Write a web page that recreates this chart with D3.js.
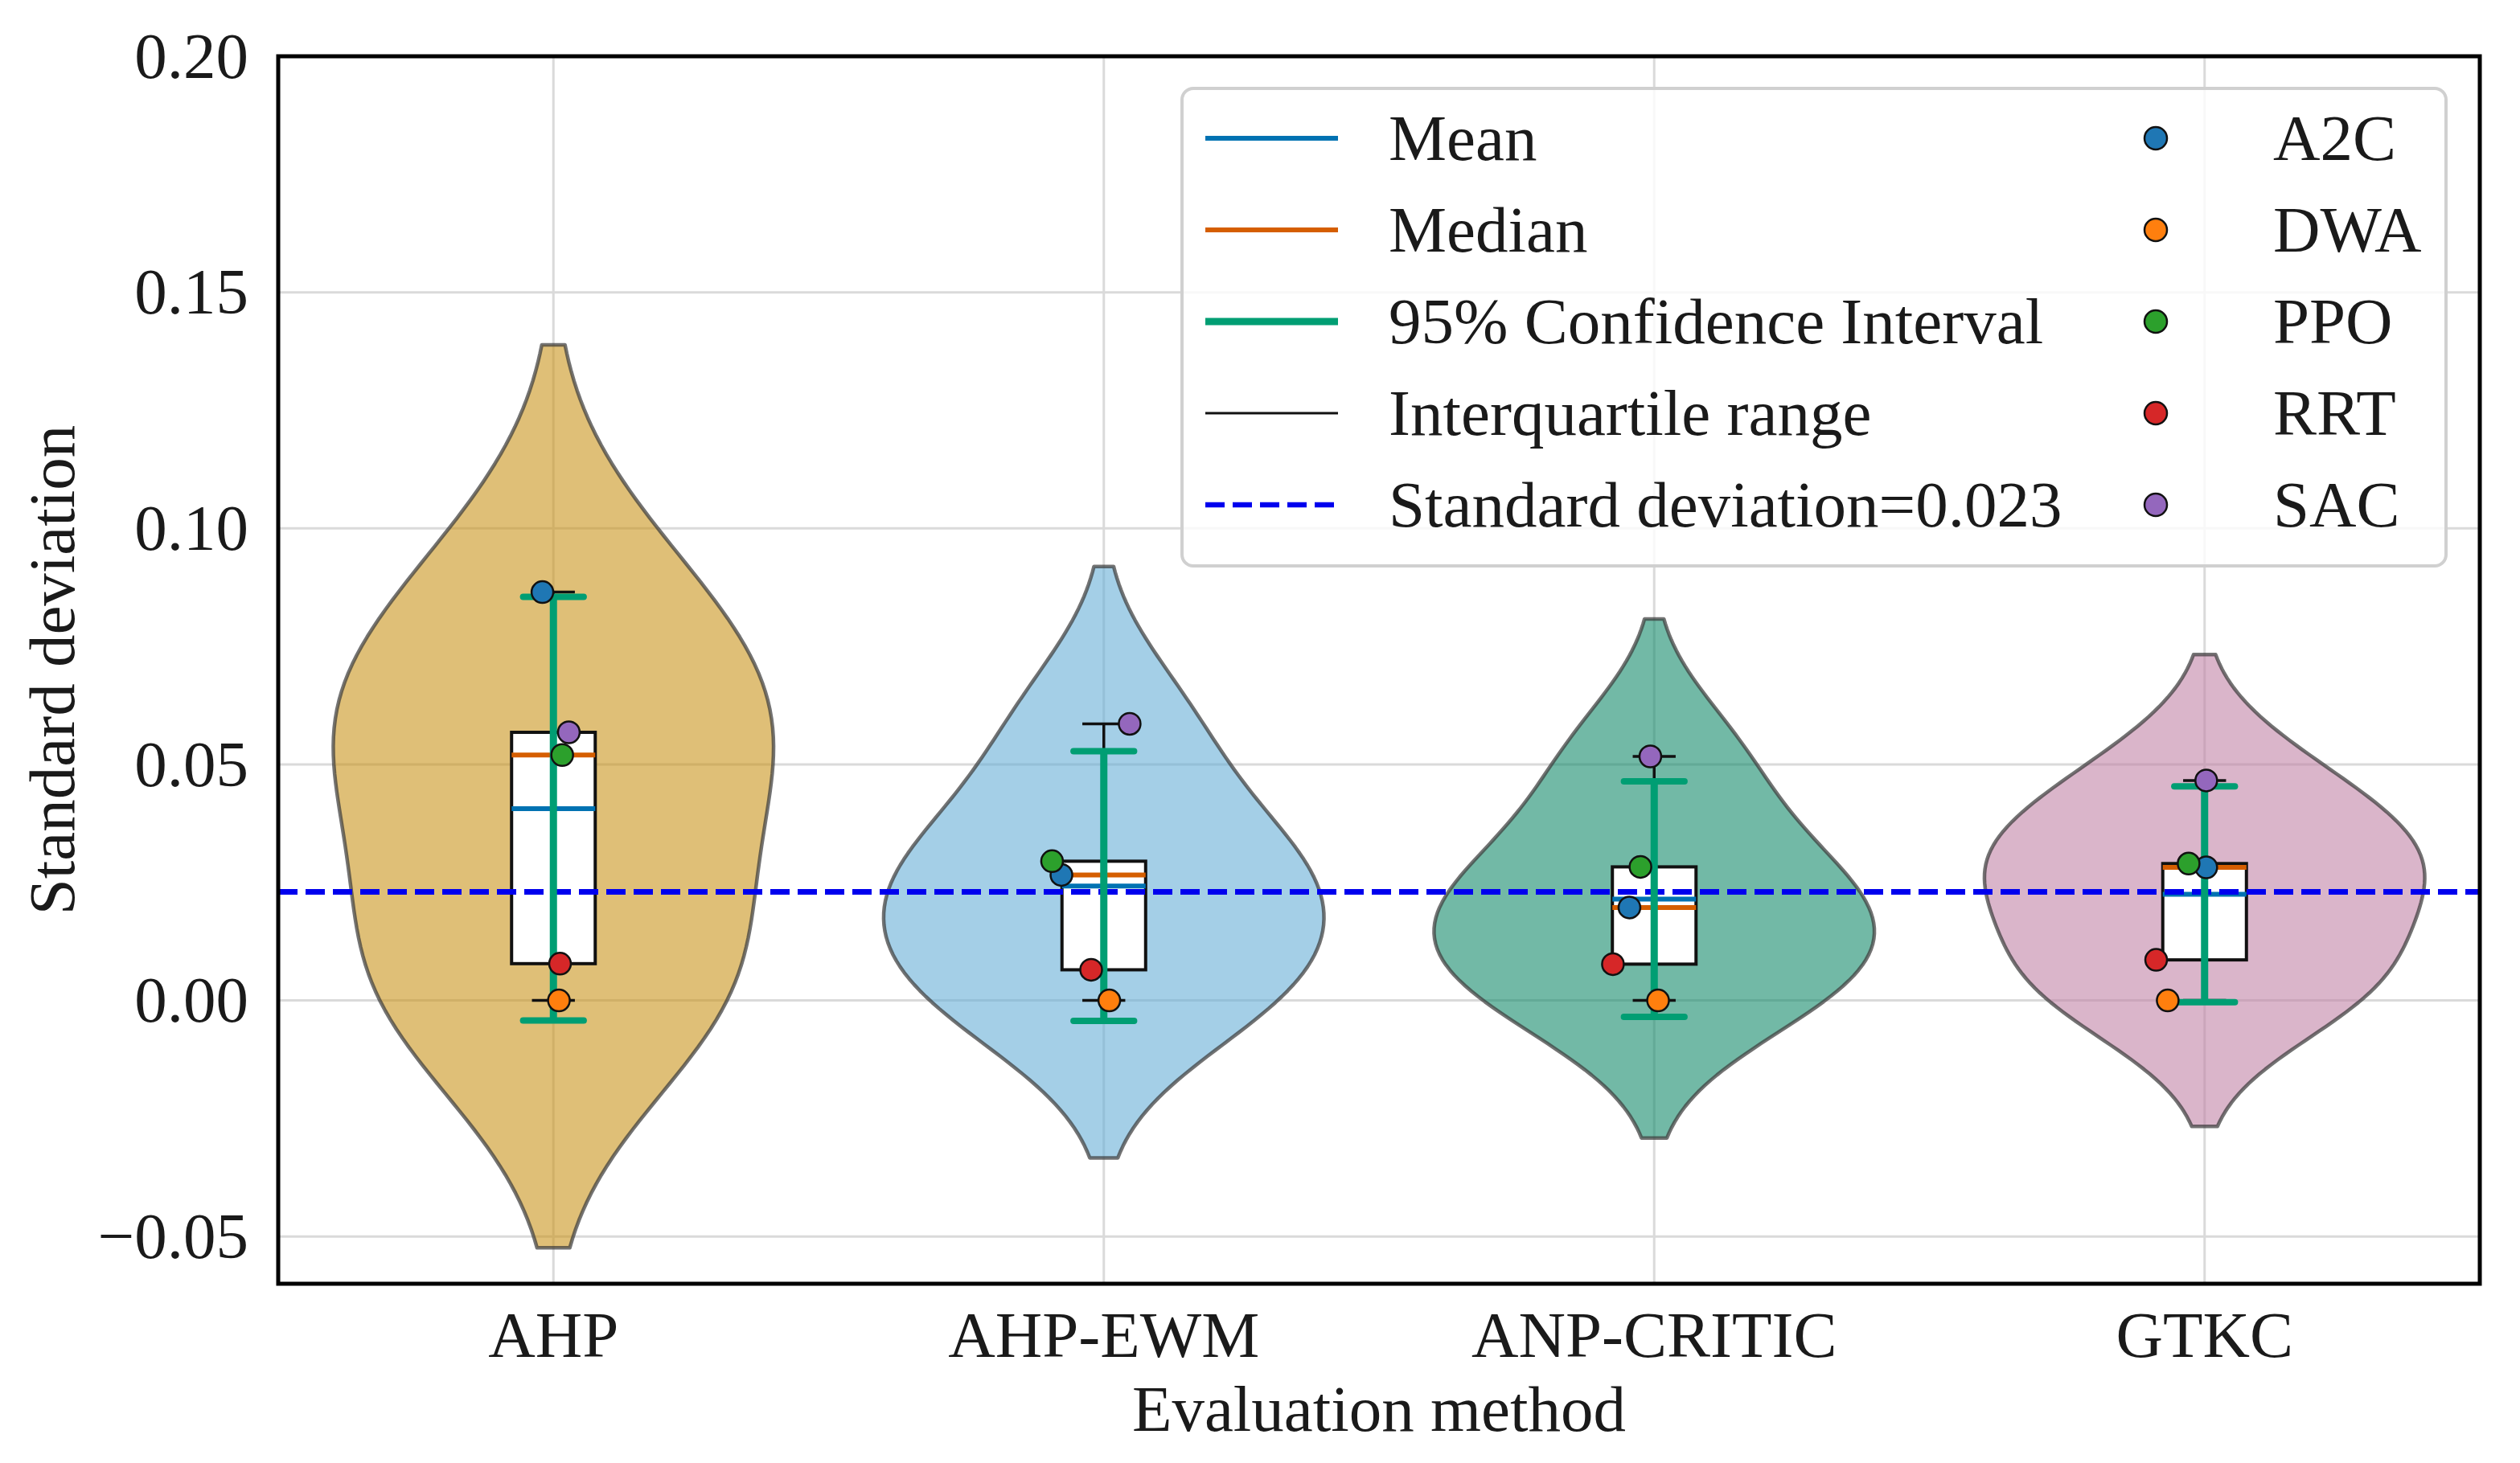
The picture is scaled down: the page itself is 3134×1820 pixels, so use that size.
<!DOCTYPE html>
<html>
<head>
<meta charset="utf-8">
<script src="https://cdn.jsdelivr.net/npm/d3@7"></script>
<style>
  body { margin: 0; background: #fff; }
  text { font-family: "Liberation Serif", "Times New Roman", serif; fill: #1a1a1a; }
</style>
</head>
<body>
<div id="chart"></div>
<script>
// categories and series
const methods = ["AHP", "AHP-EWM", "ANP-CRITIC", "GTKC"];
const algorithms = ["A2C", "DWA", "PPO", "RRT", "SAC"];

// standard deviation of each algorithm under each method (order = algorithms)
const ahpValues  = [0.0865, 0.0000, 0.0520, 0.0078, 0.0568];
const ewmValues  = [0.0266, 0.0000, 0.0295, 0.0065, 0.0586];
const anpValues  = [0.0197, 0.0000, 0.0283, 0.0077, 0.0517];
const gtkcValues = [0.0282, 0.0000, 0.0290, 0.0086, 0.0466];

// horizontal jitter of the scatter points (x units)
const ahpJitter  = [-0.020, 0.010, 0.016, 0.012, 0.028];
const ewmJitter  = [-0.077, 0.010, -0.094, -0.023, 0.047];
const anpJitter  = [-0.045, 0.007, -0.025, -0.075, -0.007];
const gtkcJitter = [0.003, -0.067, -0.029, -0.088, 0.003];

const refStd = 0.023;
const yTicks = [-0.05, 0.00, 0.05, 0.10, 0.15, 0.20];

const allValues = [ahpValues, ewmValues, anpValues, gtkcValues];
const allJitter = [ahpJitter, ewmJitter, anpJitter, gtkcJitter];

const T_975_DF4 = 2.7764;  // student t, 95% two sided, n = 5

// colours
const violinColors = ["#c9941d", "#68afd7", "#148a6a", "#c283a6"];
const algoColors = ["#1f77b4", "#ff7f0e", "#2ca02c", "#d62728", "#9467bd"];
const meanColor = "#0072B2", medianColor = "#D55E00", ciColor = "#009E73";

const width = 3134, height = 1820;
const plot = {left: 346, right: 3084, top: 70, bottom: 1597};

const svg = d3.select("#chart").append("svg")
    .attr("width", width).attr("height", height);
svg.append("rect").attr("width", width).attr("height", height).attr("fill", "#fff");

const x = d3.scaleLinear().domain([-0.5, 3.5]).range([plot.left, plot.right]);
const y = d3.scaleLinear().domain([-0.06, 0.20]).range([plot.bottom, plot.top]);

// grid
svg.append("g").selectAll("line").data(yTicks).enter().append("line")
    .attr("x1", plot.left).attr("x2", plot.right)
    .attr("y1", d => y(d)).attr("y2", d => y(d))
    .attr("stroke", "#dadada").attr("stroke-width", 3);
svg.append("g").selectAll("line").data(methods).enter().append("line")
    .attr("x1", (d, i) => x(i)).attr("x2", (d, i) => x(i))
    .attr("y1", plot.top).attr("y2", plot.bottom)
    .attr("stroke", "#dadada").attr("stroke-width", 3);

// stats for each method
const stats = allValues.map(function(vals) {
  const sorted = vals.slice().sort(d3.ascending);
  const n = vals.length, mean = d3.mean(vals), sd = d3.deviation(vals);
  const half = T_975_DF4 * sd / Math.sqrt(n);
  return {
    mean: mean, sd: sd,
    q1: d3.quantile(sorted, 0.25), med: d3.quantile(sorted, 0.5), q3: d3.quantile(sorted, 0.75),
    min: sorted[0], max: sorted[n - 1],
    ciLo: mean - half, ciHi: mean + half
  };
});

// violins (gaussian kde, scott bandwidth, cut = 2, scaled to same width)
const violinHalf = 0.4;
const violinG = svg.append("g");
allValues.forEach(function(vals, i) {
  const bw = stats[i].sd * Math.pow(vals.length, -1 / 5);
  const lo = d3.min(vals) - 2 * bw, hi = d3.max(vals) + 2 * bw;
  const grid = d3.range(100).map(k => lo + (hi - lo) * k / 99);
  const dens = grid.map(g => d3.sum(vals, v => Math.exp(-0.5 * Math.pow((g - v) / bw, 2))));
  const mx = d3.max(dens);
  const pts = grid.map((g, k) => ({v: g, w: violinHalf * dens[k] / mx}));
  violinG.append("path")
      .datum(pts)
      .attr("d", d3.area()
          .y(d => y(d.v))
          .x0(d => x(i - d.w))
          .x1(d => x(i + d.w)))
      .attr("fill", violinColors[i])
      .attr("fill-opacity", 0.6)
      .attr("stroke", "#3d3d3d")
      .attr("stroke-opacity", 0.72)
      .attr("stroke-width", 4.5)
      .attr("stroke-linejoin", "round");
});

// boxes
const boxHalf = 0.076, capHalf = 0.039, ciCapHalf = 0.055;
const boxG = svg.append("g");
stats.forEach(function(s, i) {
  // whiskers
  [[s.q3, s.max], [s.q1, s.min]].forEach(function(w) {
    boxG.append("line")
        .attr("x1", x(i)).attr("x2", x(i))
        .attr("y1", y(w[0])).attr("y2", y(w[1]))
        .attr("stroke", "#111").attr("stroke-width", 3.5);
    boxG.append("line")
        .attr("x1", x(i - capHalf)).attr("x2", x(i + capHalf))
        .attr("y1", y(w[1])).attr("y2", y(w[1]))
        .attr("stroke", "#111").attr("stroke-width", 3.5);
  });
  boxG.append("rect")
      .attr("x", x(i - boxHalf)).attr("width", x(i + boxHalf) - x(i - boxHalf))
      .attr("y", y(s.q3)).attr("height", y(s.q1) - y(s.q3))
      .attr("fill", "#fff").attr("stroke", "#111").attr("stroke-width", 4);
  boxG.append("line")
      .attr("x1", x(i - boxHalf)).attr("x2", x(i + boxHalf))
      .attr("y1", y(s.med)).attr("y2", y(s.med))
      .attr("stroke", medianColor).attr("stroke-width", 6);
  boxG.append("line")
      .attr("x1", x(i - boxHalf)).attr("x2", x(i + boxHalf))
      .attr("y1", y(s.mean)).attr("y2", y(s.mean))
      .attr("stroke", meanColor).attr("stroke-width", 6);
});

// reference standard deviation
svg.append("line")
    .attr("x1", plot.left).attr("x2", plot.right)
    .attr("y1", y(refStd)).attr("y2", y(refStd))
    .attr("stroke", "#0000ee").attr("stroke-width", 7)
    .attr("stroke-dasharray", "24,10");

// confidence intervals
const ciG = svg.append("g");
stats.forEach(function(s, i) {
  ciG.append("line")
      .attr("x1", x(i)).attr("x2", x(i))
      .attr("y1", y(s.ciLo)).attr("y2", y(s.ciHi))
      .attr("stroke", ciColor).attr("stroke-width", 9);
  [s.ciLo, s.ciHi].forEach(function(c) {
    ciG.append("line")
        .attr("x1", x(i - ciCapHalf)).attr("x2", x(i + ciCapHalf))
        .attr("y1", y(c)).attr("y2", y(c))
        .attr("stroke", ciColor).attr("stroke-width", 8)
        .attr("stroke-linecap", "round");
  });
});

// points
const ptG = svg.append("g");
allValues.forEach(function(vals, i) {
  ptG.selectAll(null).data(vals).enter().append("circle")
      .attr("cx", (d, j) => x(i + allJitter[i][j]))
      .attr("cy", d => y(d))
      .attr("r", 13.5)
      .attr("fill", (d, j) => algoColors[j])
      .attr("stroke", "#111").attr("stroke-width", 2.5);
});

// frame
svg.append("rect")
    .attr("x", plot.left).attr("y", plot.top)
    .attr("width", plot.right - plot.left).attr("height", plot.bottom - plot.top)
    .attr("fill", "none").attr("stroke", "#000").attr("stroke-width", 5);

// axes text
const fs = 81;
svg.append("g").selectAll("text").data(yTicks).enter().append("text")
    .attr("x", plot.left - 37).attr("y", d => y(d)).attr("dy", "0.33em")
    .attr("text-anchor", "end").style("font-size", fs + "px")
    .text(d => d3.format(".2f")(d).replace("-", "\u2212"));
svg.append("g").selectAll("text").data(methods).enter().append("text")
    .attr("x", (d, i) => x(i)).attr("y", 1688)
    .attr("text-anchor", "middle").style("font-size", fs + "px")
    .text(d => d);
svg.append("text")
    .attr("x", (plot.left + plot.right) / 2).attr("y", 1780)
    .attr("text-anchor", "middle").style("font-size", fs + "px")
    .text("Evaluation method");
svg.append("text")
    .attr("transform", "translate(92," + (plot.top + plot.bottom) / 2 + ") rotate(-90)")
    .attr("text-anchor", "middle").style("font-size", fs + "px")
    .text("Standard deviation");

// legend
const lg = svg.append("g");
lg.append("rect")
    .attr("x", 1470).attr("y", 110).attr("width", 1572).attr("height", 594)
    .attr("rx", 14)
    .attr("fill", "#fff").attr("fill-opacity", 0.8)
    .attr("stroke", "#d0d0d0").attr("stroke-width", 4);
const lineItems = [
  {label: "Mean", color: meanColor, w: 6, dash: null},
  {label: "Median", color: medianColor, w: 6, dash: null},
  {label: "95% Confidence Interval", color: ciColor, w: 9, dash: null},
  {label: "Interquartile range", color: "#111", w: 3, dash: null},
  {label: "Standard deviation=" + refStd, color: "#0000ee", w: 6.5, dash: "24,10"}
];
const rowY = i => 172 + i * 114;
lineItems.forEach(function(it, i) {
  lg.append("line")
      .attr("x1", 1499).attr("x2", 1664)
      .attr("y1", rowY(i)).attr("y2", rowY(i))
      .attr("stroke", it.color).attr("stroke-width", it.w)
      .attr("stroke-dasharray", it.dash);
  lg.append("text")
      .attr("x", 1727).attr("y", rowY(i)).attr("dy", "0.33em")
      .style("font-size", fs + "px").text(it.label);
});
algorithms.forEach(function(a, i) {
  lg.append("circle")
      .attr("cx", 2681).attr("cy", rowY(i)).attr("r", 14)
      .attr("fill", algoColors[i]).attr("stroke", "#111").attr("stroke-width", 2.5);
  lg.append("text")
      .attr("x", 2827).attr("y", rowY(i)).attr("dy", "0.33em")
      .style("font-size", fs + "px").text(a);
});
</script>
</body>
</html>
